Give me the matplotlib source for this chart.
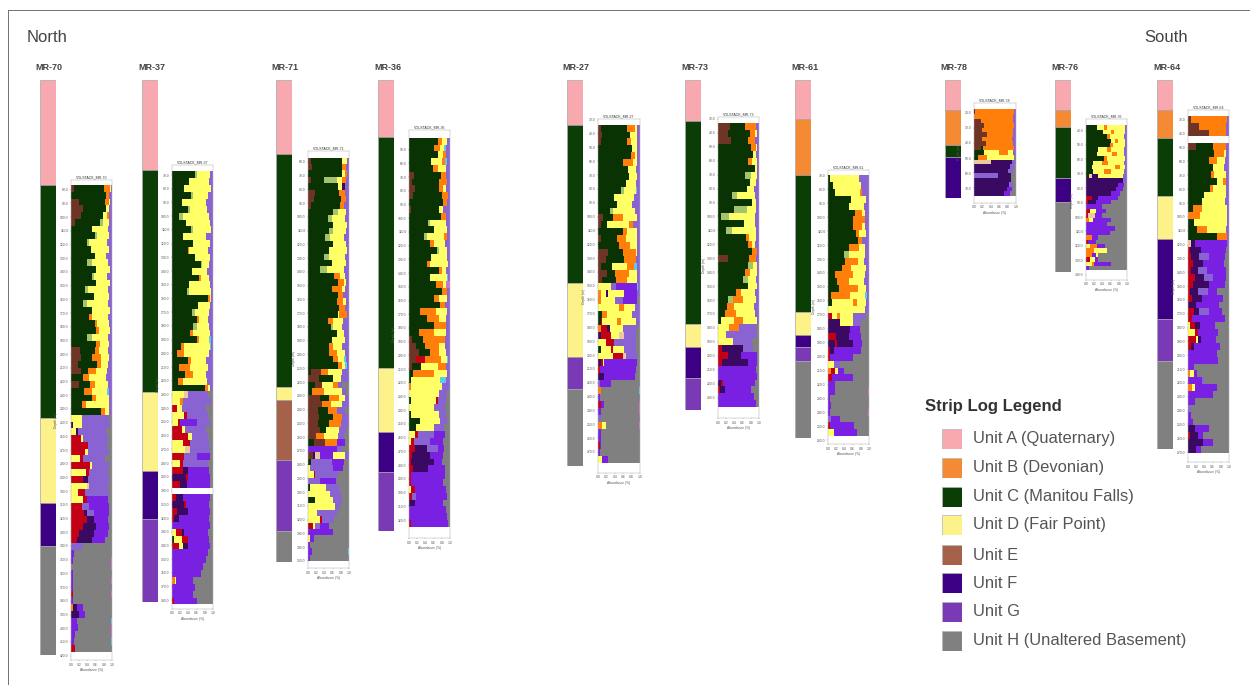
import numpy as np
import matplotlib
matplotlib.use("Agg")
import matplotlib.pyplot as plt

plt.rcParams["font.family"] = ["Liberation Sans", "DejaVu Sans"]

# strip log units (name of unit, thickness in m)
mr70_units = [("A", 76.4), ("C", 169.5), ("D", 61.8), ("F", 31.3), ("H", 79.3)]
mr37_units = [("A", 65.5), ("C", 161.5), ("D", 57.5), ("F", 34.9), ("G", 60.4)]
mr71_units = [("A", 53.8), ("C", 169.5), ("D", 9.5), ("E", 43.6), ("G", 51.6), ("H", 22.5)]
mr36_units = [("A", 41.5), ("C", 168.0), ("D", 46.5), ("F", 29.1), ("G", 42.9)]
mr27_units = [("A", 32.7), ("C", 114.9), ("D", 53.8), ("G", 23.3), ("H", 56.0)]
mr73_units = [("A", 29.8), ("C", 147.6), ("D", 16.7), ("F", 22.5), ("G", 23.3)]
mr61_units = [("A", 28.4), ("B", 40.7), ("C", 99.6), ("D", 16.7), ("F", 8.7), ("G", 10.2), ("H", 56.0)]
mr78_units = [("A", 21.8), ("B", 25.5), ("C", 8.7), ("F", 29.8)]
mr76_units = [("A", 21.8), ("B", 12.4), ("C", 37.1), ("F", 17.5), ("H", 50.9)]
mr64_units = [("A", 21.8), ("B", 20.4), ("C", 42.2), ("D", 31.3), ("F", 58.2), ("G", 30.5), ("H", 64.0)]

# stacked abundance rows, read top to bottom. each item = mineral + right edge in %
# (no number means it runs to 100)
mr70_rows = [
    "e8 c80 o94 y97 l", "c85 o93 l", "e20 c84 o92 y96 l", "e30 c86 y92 l", "e24 c78 y88 o92 l",
    "e10 c70 a78 y92 l", "c50 y90 l", "c58 a64 y92 l", "c38 a45 y88 l", "c48 y93 l",
    "c58 y85 l", "c40 a50 y90 l", "c62 y95 l", "c50 a56 y88 l",
    "c60 y94 l", "c35 a42 y90 l", "c55 y93 l", "c30 a38 y90 l",
    "c52 y94 l", "c44 o50 y90 l", "c58 o64 y92 l",
    "c60 o68 y94 l", "c40 a52 y90 l", "c62 o70 y92 l", "e22 c58 o68 y90 l",
    "e25 c50 o72 y92 l", "e18 c64 o74 y90 l", "e24 c42 o60 y88 l", "c30 o45 y86 l", "e20 c46 o58 y90 l",
    "c32 o50 y88 b92 l", "c52 o60 y92 l", "c28 o36 y92 l", "c72 o82 y92 l", "y26 l92 h",
    "f4 y28 l94 h", "y12 f18 l86 h", "r24 y30 l90 h", "r42 l88 h", "r34 y42 l92 h",
    "y22 r30 l84 h", "r46 y52 l92 h", "y36 r44 l90 h", "r30 f42 l92 h", "y40 t44 l90 h",
    "y18 r34 l92 h", "y30 r38 p90 h", "r28 l44 p92 h", "r32 f38 l56 p92 h", "r40 f56 p90 h",
    "r30 f60 p92 h", "r20 f56 p90 h", "r14 f50 p84 h", "l28 h", "p8 h",
    "p5 h98 m", "h98 m", "p4 h", "p6 h98 m", "p5 h",
    "r6 h98 m", "p4 h", "o4 f14 p30 h", "f20 p34 h", "p14 h98 b", "p18 h98 m", "p10 h98 m", "p8 h98 b", "r10 h",
]
mr37_rows = [
    "c55 a60 y92 l", "c42 y90 l", "c30 y94 l", "c46 a52 y88 l", "c24 y82 l",
    "c38 a44 y86 l", "c18 a26 y90 l", "c34 y92 l", "c46 a52 y94 l", "c28 y84 l",
    "c50 y92 l", "c38 o42 y88 l", "c56 y92 l", "c70 a74 y90 l", "c48 y85 l",
    "c66 o70 y90 l", "c42 y92 l", "c36 a42 y94 l", "c88 o92 y94 l",
    "c64 y92 l", "c48 a56 y90 l", "c62 o66 y88 l", "c52 a60 y90 l",
    "c44 o50 y92 l", "c60 o66 y90 b94 l", "c22 o30 y92 b95 l", "c12 o30 y90 l",
    "c40 o46 y84 l", "c18 o44 y88 l", "c32 o50 y82 l", "c14 o28 y86 l", "c80 o88 y92 l",
    "y30 t38 l88 h", "y20 o26 l96 h", "r12 y24 l84 h", "y30 r36 l88 h",
    "y14 r20 p60 l92 h", "r24 y32 l84 h", "r40 y48 l88 h", "y26 r44 l90 h", "y32 t44 l92 h",
    "r30 l60 p92 h", "y20 r28 l88 h", "r28 f40 p90 h", "f34 r40 p92 h", "r20 f36 p92 h", "w",
    "r10 f26 p92 h", "f30 r34 p90 h", "r12 f40 p92 h",
    "r6 f18 p90 h", "p92 h", "y10 r24 f30 p88 h", "c4 y24 r38 p90 h", "r16 y26 f40 p92 h",
    "p88 h", "p82 h", "p76 h", "p70 h", "o8 y10 p52 h",
    "p56 h", "p50 h", "r6 p60 h",
]
mr71_rows = [
    "e8 c82 y96 l", "e10 c84 o92 l", "c82 y90 o94 l", "e8 c40 a70 y84 o92 l", "c72 y84 f90 l",
    "e18 c76 o90 l", "e14 c80 o92 l", "e8 c78 o88 l", "c62 a72 y92 l", "c48 a58 y90 l",
    "c62 y94 l", "c50 a60 y92 l", "c42 a54 y88 l", "c60 y92 l", "c50 y94 l",
    "c40 a50 y90 l", "c58 y92 l", "c30 a46 y88 l", "c64 o78 y90 l", "c72 o88 y92 l",
    "c58 o82 y90 l", "c74 o86 l", "c70 o86 y92 l", "c76 o90 l", "c72 y76 o94 l",
    "c48 o60 y86 l", "c56 a62 y84 l", "c70 y88 l", "c58 y90 l", "c52 o60 y84 l",
    "c50 o70 y90 l", "c62 o72 y88 b92 l", "c72 o82 y90 b94 l", "c8 e32 o48 y82 l", "e26 c60 y80 l",
    "c18 e34 y62 o72 l84 h", "c10 o40 y84 l92 h", "e30 c50 o76 y90 l", "e34 o56 y82 l", "e24 c48 o70 l90 h",
    "e28 c60 o82 l", "e24 c52 o80 l", "e30 c44 y76 l92 h", "e20 o40 y72 l88 h", "c14 e42 o70 p90 h",
    "p70 l84 h", "e12 f16 t30 p60 y90 l", "c8 l58 p88 h", "y4 l60 p86 h", "y14 r18 l72 h",
    "l30 p68 h", "c6 y44 l76 h", "y54 l80 h", "c16 y62 l84 h", "y66 l78 h",
    "y22 l70 h", "y30 r34 l64 h", "r12 y16 l30 p50 h", "p60 h", "y4 p14 h", "p6 h", "p10 h98 b", "p6 h",
]
mr36_rows = [
    "c70 o80 y92 l", "c60 o76 y86 b90 l", "c70 y84 o90 l", "c54 y80 o88 b92 l", "c58 o70 y90 l",
    "e12 c78 o90 l", "e8 c74 o92 l", "e14 c72 o84 y90 l", "e10 c80 o94 l", "c84 o92 l",
    "e6 c72 y82 l", "c78 o90 l", "c46 a52 y90 l", "c60 y92 l", "c36 a44 y86 o92 l",
    "c52 o60 y88 l", "c68 a74 y92 l", "c54 y92 l", "c44 o52 y94 l", "c72 o80 y90 l",
    "c50 y92 b96 l", "c66 o84 y90 m", "c80 o92 l", "c62 o74 y92 l", "c76 o88 l",
    "c28 o66 y92 l", "c44 o72 y90 l", "c60 o90 l", "c24 o60 y90 l", "e8 c34 o88 l",
    "e18 c40 o74 y88 l", "e24 c50 o72 y90 l", "e18 r40 o78 y92 b96 l", "e8 c30 y70 o90 l", "c10 o60 y92 l",
    "c6 y76 b90 l", "o6 y80 l", "y72 l92 h", "c5 y66 r70 l90 h", "y60 l88 h",
    "c4 y72 l90 h", "c26 y76 l92 h", "c16 y60 l86 h", "y14 r22 l60 p88 h", "y6 r12 l50 p84 h",
    "r14 f44 l70 p86 h", "r8 f50 p84 h", "r6 f60 p80 h", "r10 f46 p88 h", "r4 p88 h",
    "r6 p84 h", "y4 r14 p90 h", "r8 l16 p92 h", "f14 p84 h", "p90 h", "p92 h", "r4 p94 h",
]
mr27_rows = [
    "e6 c70 o88 y92 l", "e10 c76 y92 l", "e6 c68 o78 y92 l", "c82 y94 l", "c78 o88 y94 l",
    "c60 o84 y94 l", "c72 y90 l", "c74 y92 l",
    "c66 y90 l", "c54 a62 y90 b94 l", "c38 y86 l", "c46 y80 l", "c28 a36 y88 l",
    "e12 c36 o60 y92 l", "e6 c22 y74 o84 l", "c60 o70 y94 l", "e8 c46 o66 y92 l", "c50 o76 y92 l",
    "e24 c60 o90 y94 l", "e20 c62 o90 l", "e6 c34 y70 o86 b92 l", "e22 c40 o74 y92 l",
    "e10 c44 o68 y92 l", "y30 l44 p92 b96 l", "o6 y18 f24 y62 p92 l", "o8 y40 l60 p92 h", "y50 o62 y88 l",
    "c10 o22 y80 l", "c6 r10 y46 o54 y90 l", "o6 r22 f28 y60 l92 h", "f8 r30 y50 t62 l90 h",
    "y20 r38 l90 h", "c8 y30 r36 y62 l90 h", "y36 r60 t66 l92 h", "f6 r12 y14 p92 h",
    "r4 p90 h", "f14 p88 h", "l4 p30 h", "o8 h98 b", "p5 h", "r6 p14 h98 m", "p6 h98 m", "l8 h",
    "o10 y20 h98 m", "p8 h", "p6 h", "r4 p8 h", "p5 h", "y10 p24 h",
]
mr73_rows = [
    "e30 c66 o92 l", "e24 c78 o90 y94 l", "e32 c72 o90 l", "c80 o92 y94 l", "c86 y92 l",
    "c72 o82 y94 l", "c90 y94 l", "c66 a80 y94 l", "c78 y92 l", "c70 y88 l",
    "c34 a46 y90 l", "c84 y92 l", "c38 a70 y92 l", "c8 a28 y90 l", "c64 y90 l",
    "c20 a34 y92 l", "c68 o76 y92 l", "c74 o84 y90 l", "c82 o94 l",
    "e24 c76 o92 l", "c74 a86 y94 l", "c66 o78 y94 l",
    "c60 a74 y92 l", "c72 y94 l", "c44 o56 y90 l", "c24 a36 o60 y92 l", "c22 o40 y88 l",
    "c16 o44 y90 l", "c8 y40 o60 y94 l", "y26 o50 l92 h", "y20 l94 h", "y36 l84 h",
    "r10 f60 l86 h", "r24 f56 p94 h", "r10 f74 p94 h", "p92 h", "p94 h", "f8 r12 p90 h", "r6 f16 p80 h", "p88 h", "p92 h",
]
mr61_rows = [
    "c6 y76 l92 l", "c12 y80 l", "c18 y78 o84 l", "c56 y92 l", "c50 y88 l",
    "c66 o84 y90 l", "c60 o90 l", "c62 o82 y90 l", "c68 o76 y92 l", "c72 o84 l",
    "c50 o76 y90 l", "c38 a50 y90 l", "c42 o74 y88 l", "c34 o56 y92 l", "c16 o60 y90 l",
    "c22 o50 y88 l", "c26 o72 y92 l", "c8 o54 y90 b94 l", "c10 y60 o70 y92 l", "y90 l",
    "r10 y22 o30 y60 l92 h", "f30 y62 l80 h", "f54 p78 h",
    "r20 f50 p80 h", "f16 r22 f60 p84 h", "r6 f14 p80 h", "r6 p60 h", "y14 l30 h",
    "o8 r16 y24 p40 h", "r10 p60 h", "p16 h", "p18 h98 m", "p6 h", "p8 h", "p6 h98 m", "l8 p30 h", "r6 p64 h", "y14 p70 h",
]
mr78_rows = [
    "f3 o96 l", "o94 l", "e16 o94 l", "e24 o96 l", "e18 o92 l",
    "e30 o94 l", "e20 o90 l", "e28 o94 l", "e16 c22 o96 l", "c24 y60 o80 y94 l",
    "c10 o30 y96 h", "t40 f90 l", "f86 l96 h", "f80 l94 h", "l58 f88 h",
    "f88 h", "f84 l92 h", "f78 p90 h", "f72 p86 h",
]
mr76_rows = [
    "c28 y44 o50 y96 l", "c42 y60 o68 y94 l", "c50 o58 y92 l", "c62 y70 o78 y94 l", "c58 o66 y96 l",
    "c30 y52 o60 y92 l", "c28 y64 o76 y92 l", "c44 o52 y94 l", "c18 y40 o54 y92 l", "c14 y70 o84 y94 l",
    "c16 y44 o62 y92 l", "c8 t14 f30 y90 l", "f90 l", "f78 p92 h", "f74 p90 h",
    "f60 p84 h", "r14 f30 p78 h", "r6 f24 p60 h", "p40 h", "r10 y24 p48 h",
    "r4 t22 p40 h", "o8 y16 p60 h", "p50 h", "p70 h", "p58 h",
    "o14 p30 h", "r6 p24 h", "y10 o26 p46 h", "o20 y50 h", "o14 p24 y30 h",
    "r10 y22 p30 h", "y14 o20 p60 h", "p8 h",
]
mr64_rows = [
    "e8 o94 l", "e28 o92 l", "e50 o92 l", "w", "e20 c60 o92 l",
    "c64 o88 y92 l", "c50 o70 y90 l", "c62 y88 l", "c56 o64 y92 l", "c70 y86 o92 l",
    "c54 o62 y92 l", "c40 y92 l", "c34 y90 l",
    "c12 o34 y94 l", "o30 y94 b96 l", "c14 y94 b96 l",
    "c22 o46 y92 l", "c70 o94 l", "t8 f16 p94 l", "r6 f32 p92 h", "r8 f28 l50 p90 h",
    "r12 f36 p88 h", "r8 f24 l46 p92 h", "r16 f38 l60 p92 h", "r12 f50 p90 h", "r6 f24 l48 p70 h",
    "r10 f34 p86 h", "f20 p76 h", "r14 f26 l52 p82 h", "r10 p90 h", "y6 r16 f30 p66 h",
    "y18 r24 p72 h", "r20 y24 f32 p68 h", "r8 f14 p78 h", "p70 h", "p72 h", "p14 h", "o6 y14 p22 h",
    "p34 l40 h", "o10 y18 p70 h", "p60 h", "p16 h", "l8 h", "p8 h", "p12 h", "f16 p50 h", "r6 f24 p36 h",
    "f36 p60 h", "f20 p32 h",
]

# depth tick values (m)
mr70_ticks = list(range(80, 421, 10))
mr37_ticks = list(range(70, 381, 10))
mr71_ticks = list(range(60, 351, 10))
mr36_ticks = list(range(50, 321, 10))
mr27_ticks = list(range(30, 271, 10))
mr73_ticks = list(range(30, 231, 10))
mr61_ticks = list(range(70, 261, 10))
mr78_ticks = list(range(20, 71, 10))
mr76_ticks = list(range(40, 141, 10))
mr64_ticks = list(range(30, 271, 10))
x_ticks = [0.0, 0.2, 0.4, 0.6, 0.8, 1.0]

unit_colors = {"A": "#f7a9af", "B": "#f58a35", "C": "#0b3d06", "D": "#fdf28a",
               "E": "#a5614a", "F": "#3c0084", "G": "#7a3ab5", "H": "#808080"}
mineral_colors = {"e": "#6e3426", "c": "#093303", "a": "#a3c46c", "t": "#ecc8a0",
                  "r": "#c40014", "f": "#3a0a62", "o": "#ff7f0a", "y": "#ffff66",
                  "l": "#8a63d2", "p": "#7a20e2", "h": "#808080", "b": "#62c8e8",
                  "m": "#d070d0", "w": "#ffffff"}

legend_labels = ["Unit A (Quaternary)", "Unit B (Devonian)", "Unit C (Manitou Falls)",
                 "Unit D (Fair Point)", "Unit E", "Unit F", "Unit G",
                 "Unit H (Unaltered Basement)"]
legend_keys = ["A", "B", "C", "D", "E", "F", "G", "H"]

W, H = 1250, 685
fig = plt.figure(figsize=(12.5, 6.85), dpi=100, facecolor="white")


def px_axes(left, right, top, bottom):
    return fig.add_axes([left / W, 1 - bottom / H, (right - left) / W, (bottom - top) / H])


def draw_strip(units, left):
    total = sum(u[1] for u in units)
    ax = px_axes(left, left + 16, 80, 80 + total * 1.375)
    base = 0
    for key, thick in units:
        ax.bar(0, thick, bottom=base, width=1, align="edge", color=unit_colors[key],
               edgecolor="#a6a6a6", linewidth=0.5)
        base += thick
    ax.set_xlim(0, 1)
    ax.set_ylim(total, 0)
    ax.axis("off")


def draw_stack(rows, name, ticks, box, ylim, row_span, ylabel_y):
    ax = px_axes(*box)
    tops = np.linspace(row_span[0], row_span[1], len(rows) + 1)
    step = tops[1] - tops[0]
    for depth, row in zip(tops, rows):
        start = 0
        for item in row.split():
            edge = int(item[1:]) if len(item) > 1 else 100
            ax.barh(depth, (edge - start) / 100, left=start / 100, height=step, align="edge",
                    color=mineral_colors[item[0]], linewidth=0, antialiased=False)
            start = edge
    ax.set_xlim(0, 1)
    ax.set_ylim(ylim[1], ylim[0])
    ax.set_xticks(x_ticks)
    ax.set_xticklabels(["%.1f" % t for t in x_ticks])
    ax.set_yticks(ticks)
    ax.set_yticklabels(["%.1f" % t for t in ticks])
    ax.tick_params(labelsize=2.4, length=1, width=0.25, pad=0.8, colors="#555555")
    ax.set_title("VOLSTACK_" + name, fontsize=2.6, pad=1.2, color="#333333")
    ax.set_xlabel("Abundance (%)", fontsize=2.4, labelpad=0.8, color="#555555")
    fig.text((box[0] - 14.5) / W, 1 - ylabel_y / H, "Depth (m)", fontsize=2.4, rotation=90,
             color="#555555", ha="center", va="center")
    for s in ax.spines.values():
        s.set_linewidth(0.35)
        s.set_color("#b0b0b0")


draw_strip(mr70_units, 40)
draw_strip(mr37_units, 142)
draw_strip(mr71_units, 276)
draw_strip(mr36_units, 378)
draw_strip(mr27_units, 567)
draw_strip(mr73_units, 685)
draw_strip(mr61_units, 795)
draw_strip(mr78_units, 945)
draw_strip(mr76_units, 1055)
draw_strip(mr64_units, 1157)

draw_stack(mr70_rows, "MR-70", mr70_ticks, (71, 112, 180, 660), (72.9, 423.2), (76.6, 417), 420)
draw_stack(mr37_rows, "MR-37", mr37_ticks, (172, 213, 165, 609), (62.7, 386.3), (67.4, 383), 385)
draw_stack(mr71_rows, "MR-71", mr71_ticks, (308, 349, 151, 568), (52.2, 355.1), (57, 350), 358)
draw_stack(mr36_rows, "MR-36", mr36_ticks, (409, 450, 130, 538), (35.7, 333.1), (41.3, 325), 335)
draw_stack(mr27_rows, "MR-27", mr27_ticks, (598, 640, 119, 473), (29.5, 285.2), (33.6, 278), 296)
draw_stack(mr73_rows, "MR-73", mr73_ticks, (718, 759, 117, 418), (28.6, 244.7), (33, 237), 265)
draw_stack(mr61_rows, "MR-61", mr61_ticks, (828, 869, 170, 444), (66.2, 262.6), (70, 257), 307)
draw_stack(mr78_rows, "MR-78", mr78_ticks, (974, 1016, 103, 203), (13.8, 79.6), (18, 75), 153)
draw_stack(mr76_rows, "MR-76", mr76_ticks, (1086, 1127, 119, 280), (32, 143.7), (36.5, 137), 200)
draw_stack(mr64_rows, "MR-64", mr64_ticks, (1188, 1229, 110, 462), (22.8, 277.1), (27, 270.6), 286)

well_names = ["MR-70", "MR-37", "MR-71", "MR-36", "MR-27", "MR-73", "MR-61", "MR-78", "MR-76", "MR-64"]
name_x = [35, 138, 271, 374, 562, 681, 791, 940, 1051, 1153]
for nm, x in zip(well_names, name_x):
    fig.text(x / W, 1 - 68 / H, nm, fontsize=6.5, fontweight="bold", color="#444444", va="center")

fig.text(27 / W, 1 - 38 / H, "North", fontsize=12, color="#444444", va="center")
fig.text(1144 / W, 1 - 38 / H, "South", fontsize=12, color="#444444", va="center")

# frame lines top and left
fig.add_artist(plt.Line2D([8 / W, 1], [1 - 10 / H, 1 - 10 / H], color="#707070", linewidth=0.7))
fig.add_artist(plt.Line2D([8 / W, 8 / W], [0, 1 - 10 / H], color="#707070", linewidth=0.7))

# legend
fig.text(925 / W, 1 - 407 / H, "Strip Log Legend", fontsize=12, fontweight="bold",
         color="#333333", va="center")
leg_y = [439, 467.6, 497, 525, 555, 583, 612, 641]
for key, label, y in zip(legend_keys, legend_labels, leg_y):
    ax = px_axes(942, 962, y - 10, y + 10)
    ax.bar(0, 1, width=1, align="edge", color=unit_colors[key], edgecolor="#b5b5b5", linewidth=0.5)
    ax.set_xlim(0, 1)
    ax.set_ylim(0, 1)
    ax.axis("off")
    fig.text(973 / W, 1 - y / H, label, fontsize=11.85, color="#555555", va="center")

fig.savefig("out.png", dpi=100)
